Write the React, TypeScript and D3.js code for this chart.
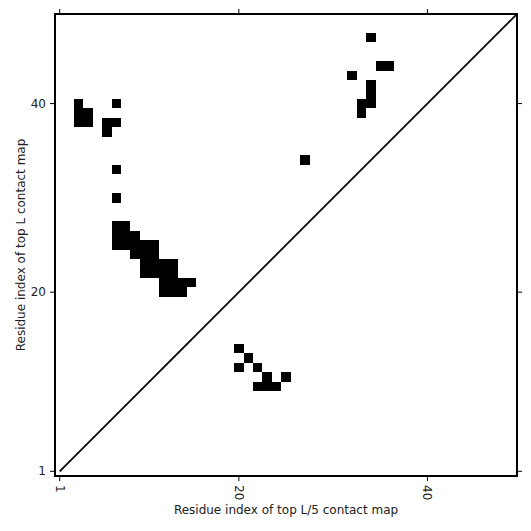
import React from "react";
import * as d3 from "d3";

// Contact cells: top L contact map (upper triangle)
const topLX = [3, 3, 4, 3, 4, 7, 6, 7, 6, 7, 7,
  7, 8, 7, 8, 9, 7, 8, 9, 10, 11, 9, 10, 11, 10, 11, 12, 13, 10, 11, 12, 13, 12, 13, 14, 15, 12, 13, 14,
  27, 34, 35, 36, 32, 34, 34, 34, 33, 33];
const topLY = [40, 39, 39, 38, 38, 40, 38, 38, 37, 33, 30,
  27, 27, 26, 26, 26, 25, 25, 25, 25, 25, 24, 24, 24, 23, 23, 23, 23, 22, 22, 22, 22, 21, 21, 21, 21, 20, 20, 20,
  34, 47, 44, 44, 43, 42, 41, 40, 40, 39];
// top L/5 contact map (lower triangle)
const topL5X = [20, 21, 20, 22, 23, 25, 22, 23, 24];
const topL5Y = [14, 13, 12, 12, 11, 11, 10, 10, 10];

const tickValues = [1, 20, 40];
const domainMin = 0.5;
const domainMax = 49.5;

export default function App() {
  const W = 531, H = 531;
  const left = 55, right = 517, top = 14, bottom = 476;
  const x = d3.scaleLinear().domain([domainMin, domainMax]).range([left, right]);
  const y = d3.scaleLinear().domain([domainMin, domainMax]).range([bottom, top]);
  const cw = x(1) - x(0);
  const ch = y(0) - y(1);
  const font = "DejaVu Sans, sans-serif";
  const cells = [
    ...topLX.map((v, i) => [v, topLY[i]]),
    ...topL5X.map((v, i) => [v, topL5Y[i]]),
  ];
  const tickLen = 5;
  return (
    <svg width={W} height={H} style={{ position: "absolute", left: 0, top: 0 }}>
      <rect x={0} y={0} width={W} height={H} fill="white" />
      <defs>
        <clipPath id="plotclip">
          <rect x={left} y={top} width={right - left} height={bottom - top} />
        </clipPath>
      </defs>
      <g shapeRendering="crispEdges">
        {cells.map(([cx, cy], i) => (
          <rect key={i} x={x(cx - 0.5)} y={y(cy + 0.5)} width={cw} height={ch} fill="black" />
        ))}
      </g>
      <line clipPath="url(#plotclip)" x1={x(1)} y1={y(1)} x2={x(domainMax)} y2={y(domainMax)} stroke="black" strokeWidth={1.8} />
      {/* ticks */}
      {tickValues.map((t) => (
        <g key={"t" + t}>
          <line x1={x(t)} x2={x(t)} y1={bottom} y2={bottom + tickLen} stroke="black" strokeWidth={1} />
          <line x1={x(t)} x2={x(t)} y1={top} y2={top - tickLen} stroke="black" strokeWidth={1} />
          <line x1={left} x2={left - tickLen} y1={y(t)} y2={y(t)} stroke="black" strokeWidth={1} />
          <line x1={right} x2={right + tickLen} y1={y(t)} y2={y(t)} stroke="black" strokeWidth={1} />
          <text
            transform={`translate(${x(t)},${bottom + tickLen + 4}) rotate(90)`}
            fontFamily={font}
            fontSize={12}
            dominantBaseline="central"
            textAnchor="start"
            fill="#222"
          >
            {t}
          </text>
          <text
            x={left - tickLen - 4}
            y={y(t)}
            fontFamily={font}
            fontSize={12}
            dominantBaseline="central"
            textAnchor="end"
            fill="#222"
          >
            {t}
          </text>
        </g>
      ))}
      <rect x={left} y={top} width={right - left} height={bottom - top} fill="none" stroke="black" strokeWidth={2} />
      <text x={(left + right) / 2} y={514} fontFamily={font} fontSize={12} textAnchor="middle" fill="#222">
        Residue index of top L/5 contact map
      </text>
      <text
        transform={`translate(25,${(top + bottom) / 2}) rotate(-90)`}
        fontFamily={font}
        fontSize={12}
        textAnchor="middle"
        fill="#222"
      >
        Residue index of top L contact map
      </text>
    </svg>
  );
}
